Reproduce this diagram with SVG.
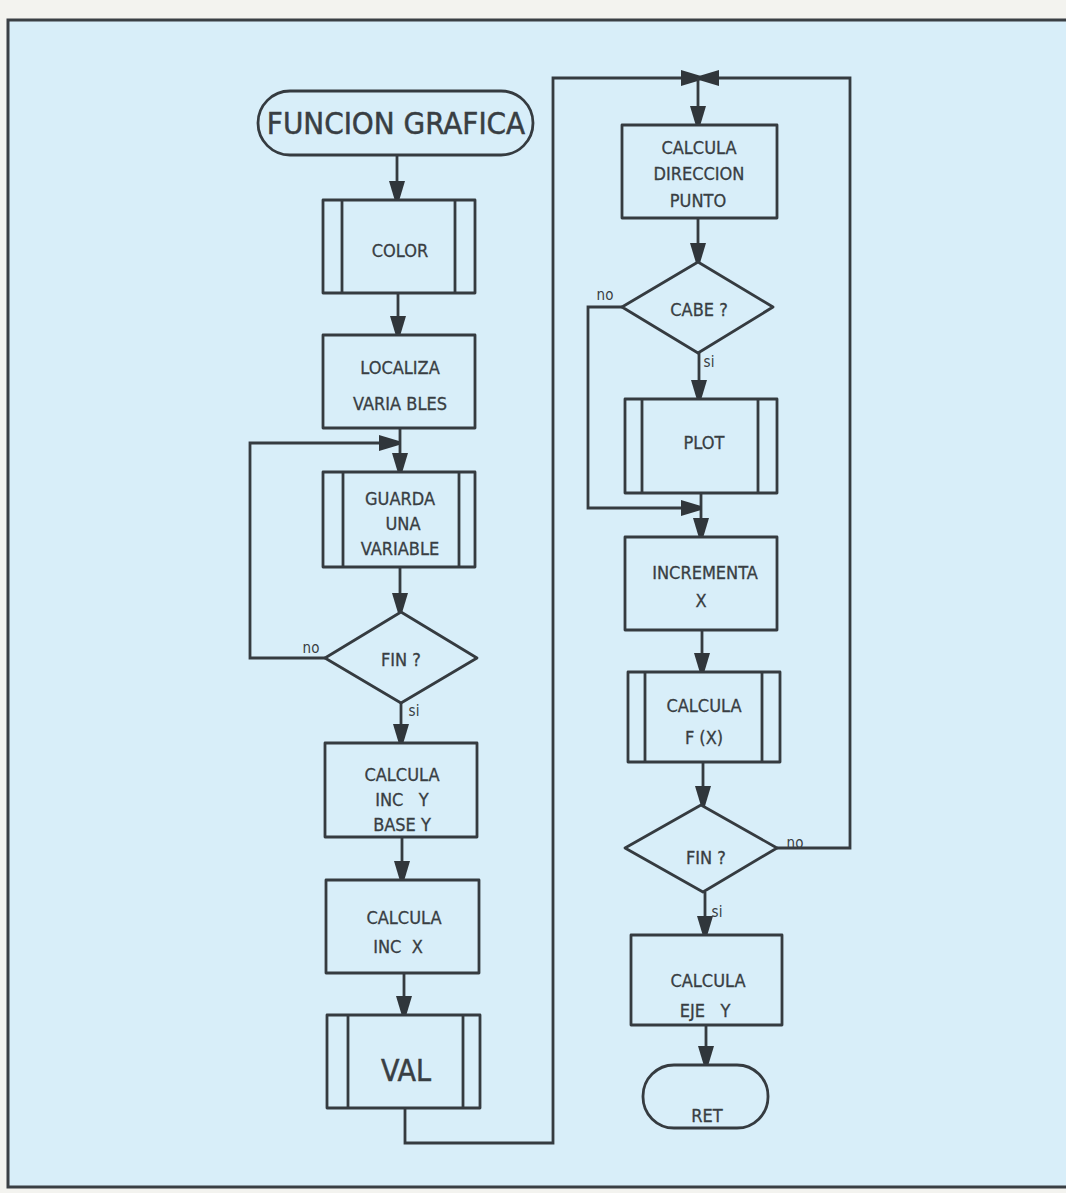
<svg xmlns="http://www.w3.org/2000/svg" width="1066" height="1193" viewBox="0 0 1066 1193">
<style>
.sh{fill:none;stroke:#353b40;stroke-width:2.8;stroke-linejoin:round}
.ln{fill:none;stroke:#353b40;stroke-width:2.8}
.t{font-family:"DejaVu Sans Condensed","DejaVu Sans",sans-serif;font-size:18px;fill:#383e43;text-anchor:middle;stroke:#383e43;stroke-width:0.3}
.big{font-family:"DejaVu Sans Condensed","DejaVu Sans",sans-serif;font-size:31px;fill:#383e43;text-anchor:middle;stroke:#383e43;stroke-width:0.5}
.lb{font-family:"DejaVu Sans Condensed","DejaVu Sans",sans-serif;font-size:15px;fill:#383e43;text-anchor:middle}
</style>
<defs>
<marker id="ah" markerWidth="20" markerHeight="16" refX="19" refY="8" orient="auto" markerUnits="userSpaceOnUse">
<path d="M0,0 L20,6 L20,10 L0,16 Z" fill="#30363b"/>
</marker>
</defs>
<rect x="0" y="0" width="1066" height="1193" fill="#f3f3ef"/>
<rect x="8" y="20" width="1070" height="1167" fill="#d8eef9" stroke="#3a3f44" stroke-width="3"/>

<g id="connectors">
<line class="ln" x1="397" y1="156" x2="397" y2="200" marker-end="url(#ah)"/>
<line class="ln" x1="398" y1="293" x2="398" y2="335" marker-end="url(#ah)"/>
<line class="ln" x1="400" y1="428" x2="400" y2="472" marker-end="url(#ah)"/>
<path class="ln" d="M325,658 H250 V443 H398" marker-end="url(#ah)"/>
<line class="ln" x1="400" y1="567" x2="400" y2="612" marker-end="url(#ah)"/>
<line class="ln" x1="401" y1="703" x2="401" y2="743" marker-end="url(#ah)"/>
<line class="ln" x1="402" y1="837" x2="402" y2="880" marker-end="url(#ah)"/>
<line class="ln" x1="404" y1="973" x2="404" y2="1015" marker-end="url(#ah)"/>
<path class="ln" d="M405,1108 V1143 H553 V78 H700" marker-end="url(#ah)"/>
<path class="ln" d="M777,848 H850 V78 H700" marker-end="url(#ah)"/>
<line class="ln" x1="698" y1="78" x2="698" y2="125" marker-end="url(#ah)"/>
<line class="ln" x1="698" y1="218" x2="698" y2="262" marker-end="url(#ah)"/>
<line class="ln" x1="699" y1="353" x2="699" y2="399" marker-end="url(#ah)"/>
<line class="ln" x1="701" y1="493" x2="701" y2="537" marker-end="url(#ah)"/>
<path class="ln" d="M622,307 H588 V508 H700" marker-end="url(#ah)"/>
<line class="ln" x1="702" y1="630" x2="702" y2="672" marker-end="url(#ah)"/>
<line class="ln" x1="703" y1="762" x2="703" y2="805" marker-end="url(#ah)"/>
<line class="ln" x1="705" y1="892" x2="705" y2="935" marker-end="url(#ah)"/>
<line class="ln" x1="706" y1="1025" x2="706" y2="1065" marker-end="url(#ah)"/>
<text class="lb" x="311" y="653">no</text>
<text class="lb" x="414" y="716">si</text>
<text class="lb" x="605" y="300">no</text>
<text class="lb" x="709" y="367">si</text>
<text class="lb" x="795" y="848">no</text>
<text class="lb" x="717" y="917">si</text>
</g>

<g id="n-funcion">
<rect class="sh" x="258" y="91" width="275" height="64" rx="32"/>
<text class="big" x="396" y="134">FUNCION GRAFICA</text>
</g>
<g id="n-color">
<rect class="sh" x="323" y="200" width="152" height="93"/>
<line class="ln" x1="342" y1="200" x2="342" y2="293"/><line class="ln" x1="455" y1="200" x2="455" y2="293"/>
<text class="t" x="400" y="257">COLOR</text>
</g>
<g id="n-localiza">
<rect class="sh" x="323" y="335" width="152" height="93"/>
<text class="t" x="400" y="374">LOCALIZA</text>
<text class="t" x="400" y="410">VARIA BLES</text>
</g>
<g id="n-guarda">
<rect class="sh" x="323" y="472" width="152" height="95"/>
<line class="ln" x1="343" y1="472" x2="343" y2="567"/><line class="ln" x1="459" y1="472" x2="459" y2="567"/>
<text class="t" x="400" y="505">GUARDA</text>
<text class="t" x="403" y="530">UNA</text>
<text class="t" x="400" y="555">VARIABLE</text>
</g>
<g id="n-fin1">
<polygon class="sh" points="401,612 477,658 401,703 325,658"/>
<text class="t" x="401" y="666">FIN ?</text>
</g>
<g id="n-incy">
<rect class="sh" x="325" y="743" width="152" height="94"/>
<text class="t" x="402" y="781">CALCULA</text>
<text class="t" x="402" y="806" xml:space="preserve">INC   Y</text>
<text class="t" x="402" y="831">BASE Y</text>
</g>
<g id="n-incx">
<rect class="sh" x="326" y="880" width="153" height="93"/>
<text class="t" x="404" y="924">CALCULA</text>
<text class="t" x="398" y="953" xml:space="preserve">INC  X</text>
</g>
<g id="n-val">
<rect class="sh" x="327" y="1015" width="153" height="93"/>
<line class="ln" x1="348" y1="1015" x2="348" y2="1108"/><line class="ln" x1="463" y1="1015" x2="463" y2="1108"/>
<text class="big" x="406" y="1081" style="font-size:30px">VAL</text>
</g>
<g id="n-direccion">
<rect class="sh" x="622" y="125" width="155" height="93"/>
<text class="t" x="699" y="154">CALCULA</text>
<text class="t" x="699" y="180">DIRECCION</text>
<text class="t" x="698" y="207">PUNTO</text>
</g>
<g id="n-cabe">
<polygon class="sh" points="698,262 773,307 698,353 622,307"/>
<text class="t" x="699" y="316">CABE ?</text>
</g>
<g id="n-plot">
<rect class="sh" x="625" y="399" width="152" height="94"/>
<line class="ln" x1="642" y1="399" x2="642" y2="493"/><line class="ln" x1="758" y1="399" x2="758" y2="493"/>
<text class="t" x="704" y="449">PLOT</text>
</g>
<g id="n-incrementa">
<rect class="sh" x="625" y="537" width="152" height="93"/>
<text class="t" x="705" y="579">INCREMENTA</text>
<text class="t" x="701" y="607">X</text>
</g>
<g id="n-fx">
<rect class="sh" x="628" y="672" width="152" height="90"/>
<line class="ln" x1="645" y1="672" x2="645" y2="762"/><line class="ln" x1="762" y1="672" x2="762" y2="762"/>
<text class="t" x="704" y="712">CALCULA</text>
<text class="t" x="704" y="744">F (X)</text>
</g>
<g id="n-fin2">
<polygon class="sh" points="701,805 777,848 703,892 625,848"/>
<text class="t" x="706" y="864">FIN ?</text>
</g>
<g id="n-ejey">
<rect class="sh" x="631" y="935" width="151" height="90"/>
<text class="t" x="708" y="987">CALCULA</text>
<text class="t" x="705" y="1017" xml:space="preserve">EJE   Y</text>
</g>
<g id="n-ret">
<rect class="sh" x="643" y="1065" width="125" height="63" rx="31"/>
<text class="t" x="707" y="1122">RET</text>
</g>
</svg>
